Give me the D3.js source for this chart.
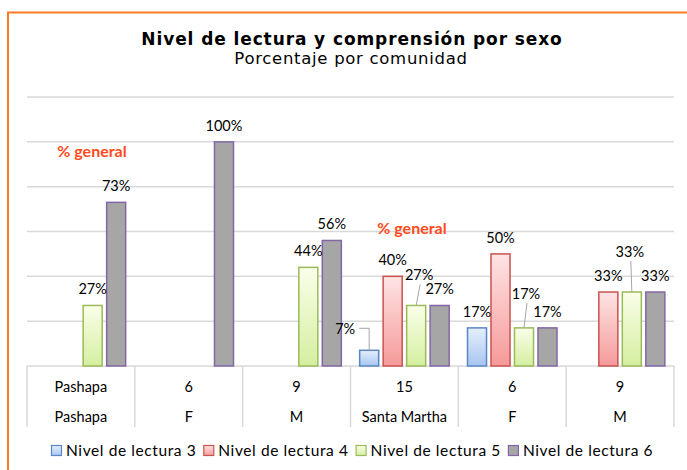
<!DOCTYPE html>
<html>
<head>
<meta charset="utf-8">
<script src="https://cdn.jsdelivr.net/npm/d3@7"></script>
<style>
  html, body { margin: 0; padding: 0; background: #fff; }
  svg { display: block; font-family: Lato, "Open Sans", sans-serif; }
</style>
</head>
<body>
<svg id="chart" width="687" height="470"></svg>
<script>
// Categories: community total (row 1) and sex / community (row 2)
const rowTop = ["Pashapa", "6", "9", "15", "6", "9"];
const rowBottom = ["Pashapa", "F", "M", "Santa Martha", "F", "M"];
const seriesNames = ["Nivel de lectura 3", "Nivel de lectura 4", "Nivel de lectura 5", "Nivel de lectura 6"];

// Percent per reading level, one value per category (null = no bar)
const nivel3 = [null, null, null, 7, 17, null];
const nivel4 = [null, null, null, 40, 50, 33];
const nivel5 = [27, null, 44, 27, 17, 33];
const nivel6 = [73, 100, 56, 27, 17, 33];
const yTicks = [0, 20, 40, 60, 80, 100, 120];

const seriesValues = [nivel3, nivel4, nivel5, nivel6];

// Styling per series: gradient stops and outline
const styles = [
  { top: "#e6effc", bottom: "#a8c5f1", stroke: "#5a86c6" },
  { top: "#fee4e4", bottom: "#f59a99", stroke: "#c9534f" },
  { top: "#fafee9", bottom: "#d4efa0", stroke: "#9bbb59" },
  { top: "#a6a6a6", bottom: "#a6a6a6", stroke: "#8466a6" }
];

// Labels that sit off to the side with a leader line (category-series)
const callouts = {
  "3-0": { dx: -24, dy: -21, path: "h" },
  "3-2": { dx: 3, dy: -30, path: "s" },
  "4-2": { dx: 2, dy: -34, path: "s" },
  "5-2": { dx: -2, dy: -40, path: "s" }
};

const svg = d3.select("#chart");
const W = 687, H = 470;
const plot = { left: 27, right: 674, top: 97, bottom: 366 };

// Orange outer frame
svg.append("rect")
  .attr("x", 8).attr("y", 12.5)
  .attr("width", W + 20).attr("height", H + 20)
  .attr("fill", "none").attr("stroke", "#fb7a26").attr("stroke-width", 2);

// Gradients
const defs = svg.append("defs");
styles.forEach((s, i) => {
  const g = defs.append("linearGradient").attr("id", "grad" + i)
    .attr("x1", 0).attr("y1", 0).attr("x2", 0).attr("y2", 1);
  g.append("stop").attr("offset", "0%").attr("stop-color", s.top);
  g.append("stop").attr("offset", "100%").attr("stop-color", s.bottom);
});

// Title
svg.append("text").attr("x", 352).attr("y", 45).attr("text-anchor", "middle")
  .attr("font-family", "'DejaVu Sans', sans-serif")
  .attr("font-size", 17).attr("font-weight", "bold").attr("letter-spacing", 0.9)
  .attr("fill", "#000")
  .text("Nivel de lectura y comprensión por sexo");
svg.append("text").attr("x", 351).attr("y", 64).attr("text-anchor", "middle")
  .attr("font-family", "'DejaVu Sans', sans-serif")
  .attr("font-size", 16.5).attr("letter-spacing", 0.7).attr("fill", "#000")
  .text("Porcentaje por comunidad");

// Scales
const idx = d3.range(rowTop.length);
const x0 = d3.scaleBand().domain(idx).range([plot.left, plot.right]).padding(0);
const x1 = d3.scaleBand().domain(d3.range(seriesNames.length))
  .range([0, x0.bandwidth()]).paddingInner(0.19).paddingOuter(0.39);
const y = d3.scaleLinear().domain([0, 120]).range([plot.bottom, plot.top]);

// Gridlines
svg.append("g").selectAll("line").data(yTicks).join("line")
  .attr("x1", plot.left).attr("x2", plot.right)
  .attr("y1", d => y(d)).attr("y2", d => y(d))
  .attr("stroke", "#d9d9d9").attr("stroke-width", 1.5);

// Category table below the axis
const table = svg.append("g");
const bounds = idx.map(i => x0(i)).concat([plot.right]);
table.selectAll("line").data(bounds).join("line")
  .attr("x1", d => d).attr("x2", d => d)
  .attr("y1", plot.bottom).attr("y2", 427)
  .attr("stroke", "#d9d9d9").attr("stroke-width", 1.5);
table.selectAll("text.r1").data(rowTop).join("text").attr("class", "r1")
  .attr("x", (d, i) => x0(i) + x0.bandwidth() / 2).attr("y", 392)
  .attr("text-anchor", "middle").attr("font-size", 14.5).attr("fill", "#000")
  .text(d => d);
table.selectAll("text.r2").data(rowBottom).join("text").attr("class", "r2")
  .attr("x", (d, i) => x0(i) + x0.bandwidth() / 2).attr("y", 422)
  .attr("text-anchor", "middle").attr("font-size", 14.5).attr("fill", "#000")
  .text(d => d);

// Bars
const bars = [];
seriesValues.forEach((vals, s) => vals.forEach((v, c) => {
  if (v !== null) bars.push({ c, s, v });
}));

svg.append("g").selectAll("rect").data(bars).join("rect")
  .attr("x", d => x0(d.c) + x1(d.s))
  .attr("y", d => y(d.v))
  .attr("width", x1.bandwidth())
  .attr("height", d => y(0) - y(d.v))
  .attr("fill", d => `url(#grad${d.s})`)
  .attr("stroke", d => styles[d.s].stroke).attr("stroke-width", 1.5);

// Value labels, some with leader lines
const lab = svg.append("g");
bars.forEach(d => {
  const cx = x0(d.c) + x1(d.s) + x1.bandwidth() / 2;
  const top = y(d.v);
  const co = callouts[d.c + "-" + d.s];
  let lx = cx, ly = top - 16;
  if (co) {
    lx = cx + co.dx;
    ly = top + co.dy;
    const leader = co.path === "h"
      ? `M${lx + 14},${ly - 1}H${cx}V${top}`
      : `M${lx + 1},${ly + 9}L${cx},${top}`;
    lab.append("path").attr("d", leader)
      .attr("fill", "none").attr("stroke", "#a6a6a6").attr("stroke-width", 1);
  }
  lab.append("text").attr("x", lx).attr("y", ly + 5)
    .attr("text-anchor", "middle").attr("font-size", 14.5).attr("fill", "#000")
    .text(d.v + "%");
});

// "% general" notes
[[92, 157], [412, 234]].forEach(([px, py]) => {
  svg.append("text").attr("x", px).attr("y", py).attr("text-anchor", "middle")
    .attr("font-size", 16).attr("font-weight", "bold").attr("fill", "#ff4a1c")
    .text("% general");
});

// Legend
const leg = svg.append("g");
let lxPos = 51;
seriesNames.forEach((name, i) => {
  leg.append("rect").attr("x", lxPos + 0.5).attr("y", 445.5).attr("width", 10).attr("height", 10)
    .attr("fill", `url(#grad${i})`).attr("stroke", styles[i].stroke).attr("stroke-width", 1.2);
  const t = leg.append("text").attr("x", lxPos + 15).attr("y", 456)
    .attr("font-size", 15.5).attr("letter-spacing", 0.6).attr("fill", "#000").text(name);
  lxPos += 15 + t.node().getComputedTextLength() + 7;
});
</script>
</body>
</html>
